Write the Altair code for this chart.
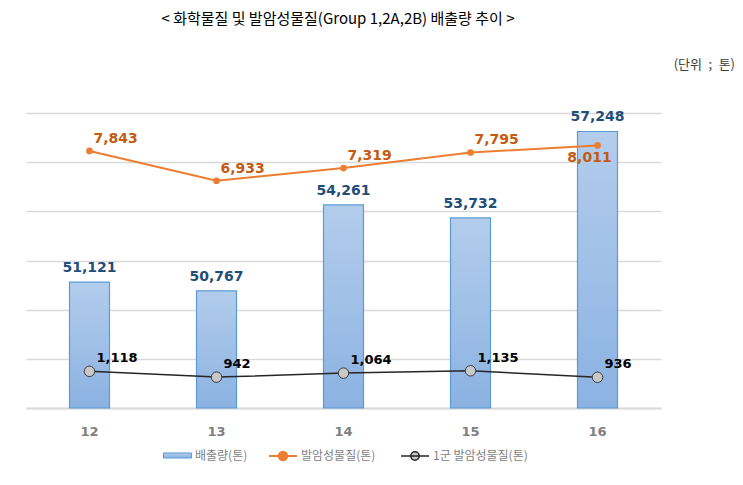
import altair as alt
import pandas as pd

years = ["12", "13", "14", "15", "16"]
emissions = [51121, 50767, 54261, 53732, 57248]
carcinogens = [7843, 6933, 7319, 7795, 8011]
group1 = [1118, 942, 1064, 1135, 936]
series_names = ["배출량(톤)", "발암성물질(톤)", "1군 발암성물질(톤)"]
title_text = ["< 화학물질 및 발암성물질(Group 1,2A,2B) 배출량 추이 >"]
unit_text = ["(단위\u2002;\u2002톤)"]
bar_floor = 46000

df = pd.DataFrame({
    "year": years, "emis": emissions, "carc": carcinogens, "g1": group1,
    "s_bar": series_names[0], "s_carc": series_names[1], "s_g1": series_names[2],
})

NUM_FONT = "DejaVu Sans"
KR_FONT = "Noto Sans CJK KR"

x = alt.X("year:N", title=None, sort=years,
          scale=alt.Scale(paddingInner=0, paddingOuter=0),
          axis=alt.Axis(labelAngle=0, labelColor="#808080", labelFont=NUM_FONT,
                        labelFontWeight="bold", labelFontSize=13, labelPadding=17,
                        ticks=False, domainColor="#d9d9d9", domainWidth=2, grid=False))

ybar_scale = alt.Scale(domain=[bar_floor, 58000], zero=False, nice=False)
yline_scale = alt.Scale(domain=[0, 9000], zero=True, nice=False)

base = alt.Chart(df)

grad = alt.Gradient(gradient="linear",
                    stops=[alt.GradientStop(color="#b3cdec", offset=0),
                           alt.GradientStop(color="#8bb2e2", offset=1)],
                    x1=0, x2=0, y1=0, y2=1)

line_sym = "M-1,0H1M0.3,0A0.3,0.3,0,1,1,-0.3,0A0.3,0.3,0,1,1,0.3,0"
bar_sym = "M-1,-0.18H1V0.18H-1Z"

legend_common = dict(title=None, orient="none", legendY=328, symbolSize=784,
                     labelFont=KR_FONT, labelFontSize=12, labelColor="#7f7f7f", labelOffset=3)

bars = base.mark_bar(size=40, fill=grad, strokeWidth=1.2).encode(
    x=x,
    y=alt.Y("emis:Q", title=None, scale=ybar_scale,
            axis=alt.Axis(values=list(range(46000, 58001, 2000)), labels=False, ticks=False,
                          domain=False, grid=True, gridColor="#d9d9d9", gridWidth=1.5)),
    y2=alt.Y2Datum(bar_floor),
    stroke=alt.Stroke("s_bar:N", scale=alt.Scale(domain=[series_names[0]], range=["#5b9bd5"]),
                      legend=alt.Legend(legendX=137, symbolType=bar_sym,
                                        symbolFillColor="#a9c6e9", symbolStrokeWidth=1,
                                        **legend_common)),
)

bar_labels = base.mark_text(font=NUM_FONT, fontWeight="bold", fontSize=14, color="#1f4e79",
                            baseline="bottom", dy=-7).encode(
    x=x, y=alt.Y("emis:Q", scale=ybar_scale, axis=None), text=alt.Text("emis:Q", format=","))

orange_line = base.mark_line(color="#ed7d31", strokeWidth=2).encode(
    x=x, y=alt.Y("carc:Q", scale=yline_scale, axis=None))
orange_pts = base.mark_point(filled=True, size=45, opacity=1).encode(
    x=x, y=alt.Y("carc:Q", scale=yline_scale, axis=None),
    color=alt.Color("s_carc:N", scale=alt.Scale(domain=[series_names[1]], range=["#ed7d31"]),
                    legend=alt.Legend(legendX=242, symbolType=line_sym,
                                      symbolStrokeColor="#ed7d31", symbolStrokeWidth=2,
                                      **legend_common)))
orange_labels = base.mark_text(font=NUM_FONT, fontWeight="bold", fontSize=14, color="#c55a11",
                               align="left", baseline="bottom", dx=4, dy=-5).encode(
    x=x, y=alt.Y("carc:Q", scale=yline_scale, axis=None), text=alt.Text("carc:Q", format=",")
).transform_filter(alt.datum.year != years[-1])
orange_last = base.mark_text(font=NUM_FONT, fontWeight="bold", fontSize=14, color="#c55a11",
                             align="center", baseline="top", dx=-8, dy=6).encode(
    x=x, y=alt.Y("carc:Q", scale=yline_scale, axis=None), text=alt.Text("carc:Q", format=",")
).transform_filter(alt.datum.year == years[-1])

black_line = base.mark_line(color="#262626", strokeWidth=1.5).encode(
    x=x, y=alt.Y("g1:Q", scale=yline_scale, axis=None))
black_pts = base.mark_point(filled=True, size=110, stroke="#3a3a3a", strokeWidth=1, opacity=1).encode(
    x=x, y=alt.Y("g1:Q", scale=yline_scale, axis=None),
    color=alt.Color("s_g1:N", scale=alt.Scale(domain=[series_names[2]], range=["#c8c8c8"]),
                    legend=alt.Legend(legendX=374, symbolType=line_sym,
                                      symbolStrokeColor="#262626", symbolStrokeWidth=1.5,
                                      symbolFillColor="#ffffff", **legend_common)))
black_labels = base.mark_text(font=NUM_FONT, fontWeight="bold", fontSize=13, color="#000000",
                              align="left", baseline="bottom", dx=7, dy=-6).encode(
    x=x, y=alt.Y("g1:Q", scale=yline_scale, axis=None), text=alt.Text("g1:Q", format=","))

unit = alt.Chart(pd.DataFrame({"t": unit_text})).mark_text(
    font=KR_FONT, fontSize=13, color="#404040", align="right", baseline="middle").encode(
    x=alt.value(709), y=alt.value(-48), text="t:N")

title = alt.Chart(pd.DataFrame({"t": title_text})).mark_text(
    font=KR_FONT, fontSize=15, color="#000000", align="center", baseline="middle").encode(
    x=alt.value(312), y=alt.value(-94), text="t:N")

chart = alt.layer(
    bars, bar_labels, orange_line, orange_pts, orange_labels, orange_last,
    black_line, black_pts, black_labels, unit, title
).resolve_scale(
    y="independent", color="independent", stroke="independent"
).properties(
    width=635, height=295,
    padding={"left": 18, "top": 105, "right": 74, "bottom": 69},
    autosize=alt.AutoSizeParams(type="none"),
).configure_view(stroke=None)

chart.save("out.html", embed_options={"renderer": "svg", "actions": False})
